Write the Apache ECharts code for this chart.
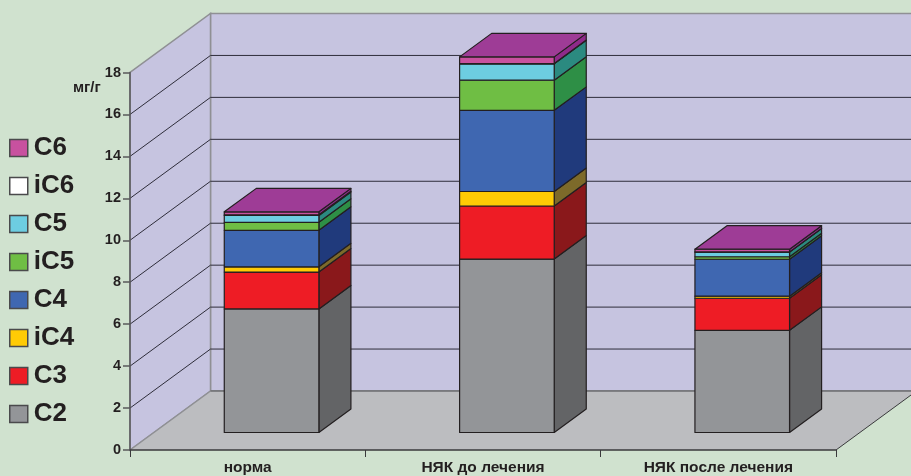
<!DOCTYPE html>
<html>
<head>
<meta charset="utf-8">
<style>html,body{margin:0;padding:0;background:#d0e2cf}#chart{width:911px;height:476px}</style>
<script src="https://cdn.jsdelivr.net/npm/echarts@6/dist/echarts.min.js"></script>
</head>
<body>
<div id="chart"></div>
<script>
// Fatty acid content, mg/g, by patient group
const categories = ['норма', 'НЯК до лечения', 'НЯК после лечения'];
const C2  = [5.89, 8.27, 4.87];
const C3  = [1.76, 2.53, 1.53];
const iC4 = [0.25, 0.69, 0.10];
const C4  = [1.74, 3.87, 1.76];
const iC5 = [0.38, 1.44, 0.12];
const C5  = [0.33, 0.78, 0.22];
const iC6 = [0.03, 0.01, 0.01];
const C6  = [0.14, 0.32, 0.13];
const yTicks = [0, 2, 4, 6, 8, 10, 12, 14, 16, 18];

const layers = [
  { name: 'C2',  values: C2,  front: '#939598', side: '#636466' },
  { name: 'C3',  values: C3,  front: '#ee1c25', side: '#8a181b' },
  { name: 'iC4', values: iC4, front: '#ffcb05', side: '#7d6a2a' },
  { name: 'C4',  values: C4,  front: '#3f67b1', side: '#203a7c' },
  { name: 'iC5', values: iC5, front: '#6fbe44', side: '#2e8f46' },
  { name: 'C5',  values: C5,  front: '#6dcde1', side: '#2b8a80' },
  { name: 'iC6', values: iC6, front: '#ffffff', side: '#808080' },
  { name: 'C6',  values: C6,  front: '#c8519f', side: '#8f2a8a', top: '#9e3c96' }
];

// Oblique projection: how far the floor recedes, in pixels
const DEPTH_X = 80.5, DEPTH_Y = -59;
// Where the bars sit inside that depth, and their share of a category band
const BAR_NEAR = 0.297, BAR_FAR = 0.695, BAR_SHARE = 0.402;
const INK = '#231f20';

const shift = (p, d) => [p[0] + DEPTH_X * d, p[1] + DEPTH_Y * d];

function bounds(api) {
  const band = api.size([1, 0])[0];
  const left = api.coord([0, 0])[0] - band / 2;
  const right = api.coord([categories.length - 1, 0])[0] + band / 2;
  return { left, right };
}

// Side wall, back wall and floor of the box
function renderBox(params, api) {
  const { left, right } = bounds(api);
  const y0 = api.coord([0, 0])[1];
  const yMax = api.coord([0, yTicks[yTicks.length - 1]])[1];
  const a = [left, y0], b = [left, yMax], c = [right, y0], d = [right, yMax];
  const wall = '#c6c4e0';
  return {
    type: 'group',
    children: [
      { type: 'polygon', shape: { points: [shift(a, 1), shift(b, 1), shift(d, 1), shift(c, 1)] },
        style: { fill: wall, stroke: '#8f9094', lineWidth: 1.5 } },
      { type: 'polygon', shape: { points: [a, shift(a, 1), shift(b, 1), b] },
        style: { fill: wall, stroke: '#8f9094', lineWidth: 1.5 } },
      { type: 'polygon', shape: { points: [a, shift(a, 1), shift(c, 1), c] },
        style: { fill: '#bcbdc0', stroke: null } },
      { type: 'polyline', shape: { points: [a, shift(a, 1)] },
        style: { stroke: '#8f9094', lineWidth: 1.5, fill: null } },
      { type: 'polyline', shape: { points: [shift(a, 1), shift(c, 1)] },
        style: { stroke: '#6d6e71', lineWidth: 1.5, fill: null } },
      { type: 'polyline', shape: { points: [c, shift(c, 1)] },
        style: { stroke: '#3a3a3c', lineWidth: 1, fill: null } }
    ]
  };
}

// One gridline per tick: across the side wall, then along the back wall
function renderGridline(params, api) {
  const { left, right } = bounds(api);
  const y = api.coord([0, api.value(0)])[1];
  const p = [left, y];
  return {
    type: 'polyline',
    shape: { points: [p, shift(p, 1), shift([right, y], 1)] },
    style: { stroke: '#2e2d3a', lineWidth: 1, fill: null }
  };
}

// One layer of a stacked 3D bar: front face, side face, and a lid on the top layer
function renderLayer(layer) {
  return function (params, api) {
    const idx = api.value(0);
    const band = api.size([1, 0])[0];
    const cx = api.coord([idx, 0])[0];
    const x0 = cx - band * BAR_SHARE / 2, x1 = cx + band * BAR_SHARE / 2;
    const yBase = api.coord([idx, api.value(1)])[1];
    const yTop = api.coord([idx, api.value(2)])[1];
    const n = (x, y) => shift([x, y], BAR_NEAR);
    const f = (x, y) => shift([x, y], BAR_FAR);
    const edge = { stroke: INK, lineWidth: 1.2, lineJoin: 'round' };
    const children = [
      { type: 'polygon', shape: { points: [n(x1, yBase), f(x1, yBase), f(x1, yTop), n(x1, yTop)] },
        style: Object.assign({ fill: layer.side }, edge) },
      { type: 'polygon', shape: { points: [n(x0, yBase), n(x1, yBase), n(x1, yTop), n(x0, yTop)] },
        style: Object.assign({ fill: layer.front }, edge) }
    ];
    if (layer.top) {
      children.push({ type: 'polygon', shape: { points: [n(x0, yTop), n(x1, yTop), f(x1, yTop), f(x0, yTop)] },
        style: Object.assign({ fill: layer.top }, edge) });
    }
    return { type: 'group', children };
  };
}

const running = categories.map(() => 0);
const layerSeries = layers.map((layer, k) => ({
  type: 'custom',
  name: layer.name,
  z: 10 + k,
  silent: true,
  itemStyle: { color: layer.front },
  renderItem: renderLayer(layer),
  encode: { x: 0, y: 2 },
  data: layer.values.map((v, i) => {
    const base = running[i];
    running[i] = base + v;
    return [i, base, base + v];
  })
}));

const chart = echarts.init(document.getElementById('chart'), null, { renderer: 'canvas' });
chart.setOption({
  animation: false,
  backgroundColor: '#d0e2cf',
  textStyle: { fontFamily: '"Liberation Sans", Arial, sans-serif' },
  grid: { left: 130, right: 75, top: 72.5, bottom: 26, outerBoundsMode: 'none' },
  xAxis: {
    type: 'category',
    data: categories,
    z: 6,
    axisLine: { lineStyle: { color: '#3a3a3c', width: 1.5 } },
    axisTick: { show: true, alignWithLabel: false, length: 7, lineStyle: { color: '#3a3a3c', width: 1 } },
    axisLabel: { color: INK, fontWeight: 'bold', fontSize: 15.5, margin: 10, interval: 0 },
    splitLine: { show: false }
  },
  yAxis: {
    type: 'value',
    min: 0,
    max: 18,
    interval: 2,
    z: 6,
    axisLine: { show: true, lineStyle: { color: '#58595b', width: 1.5 } },
    axisTick: { show: true, length: 7, lineStyle: { color: '#58595b', width: 1.5 } },
    axisLabel: { color: INK, fontWeight: 'bold', fontSize: 14.5, margin: 9 },
    splitLine: { show: false }
  },
  legend: {
    orient: 'vertical',
    left: 9,
    top: 135,
    padding: 0,
    icon: 'rect',
    itemWidth: 18,
    itemHeight: 17,
    itemGap: 12,
    selectedMode: false,
    textStyle: { color: INK, fontWeight: 'bold', fontSize: 26, lineHeight: 26, padding: [0, 0, 0, 1] },
    data: layers.slice().reverse().map(l => ({
      name: l.name,
      itemStyle: { color: l.front, borderColor: '#4a4a4c', borderWidth: 1.5 }
    }))
  },
  graphic: [{
    type: 'text',
    left: 73,
    top: 80,
    style: { text: 'мг/г', fill: INK, font: 'bold 15px "Liberation Sans", Arial, sans-serif' }
  }],
  series: [
    { type: 'custom', name: 'box', z: 1, silent: true, renderItem: renderBox, data: [[0]], encode: { y: 0 } },
    { type: 'custom', name: 'gridlines', z: 2, silent: true, renderItem: renderGridline,
      data: yTicks.slice(1, -1).map(v => [v]), encode: { y: 0 } }
  ].concat(layerSeries)
});
</script>
</body>
</html>
